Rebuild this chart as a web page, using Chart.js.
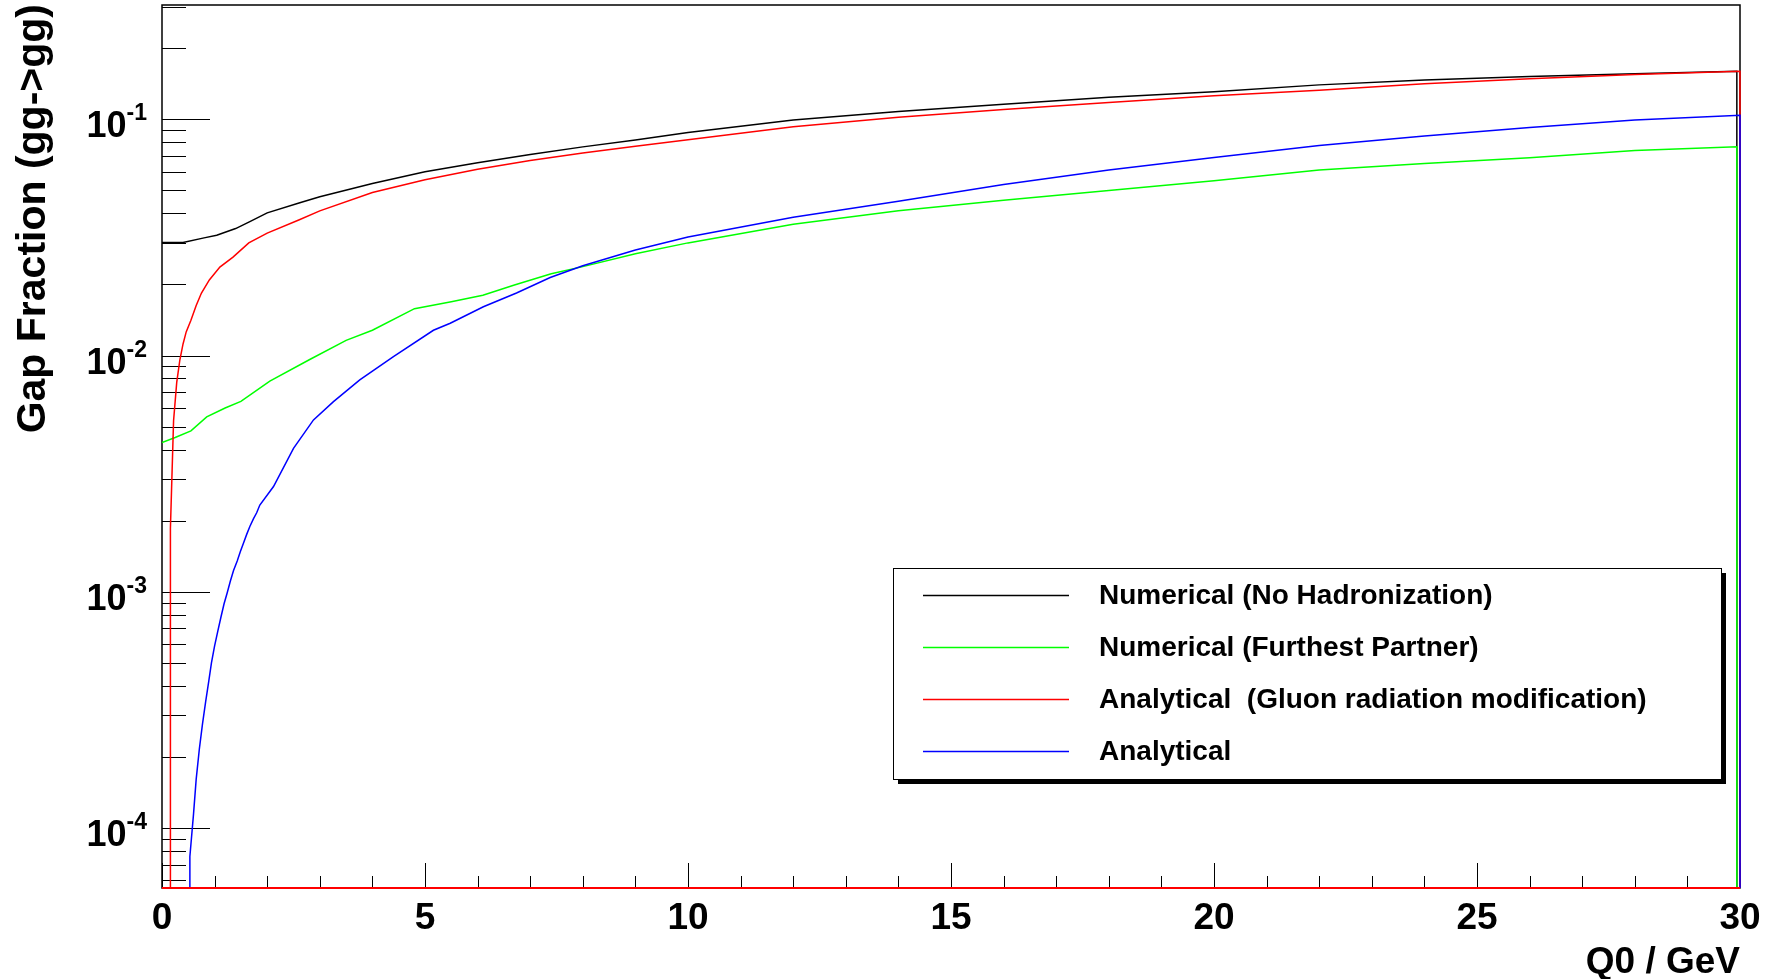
<!DOCTYPE html>
<html>
<head>
<meta charset="utf-8">
<script src="https://cdn.jsdelivr.net/npm/chart.js@4.4.1/dist/chart.umd.min.js"></script>
<style>
  html, body { margin: 0; padding: 0; background: #fff; }
  #chart { display: block; }
</style>
</head>
<body>
<canvas id="chart" width="1772" height="979"></canvas>
<script>
// axis ranges (log y)
const xMin = 0, xMax = 30;
const yMin = 5.57e-5, yMax = 0.305;
// empty histogram bins sit far below the axis floor and get clipped
const EMPTY = 1e-9;

const xMajorTicks = [0, 5, 10, 15, 20, 25, 30];
const xTickLabels = ['0', '5', '10', '15', '20', '25', '30'];
const yMajorTicks = [1e-4, 1e-3, 1e-2, 1e-1];
const yTickExps = ['-4', '-3', '-2', '-1'];

const seriesLabels = [
  'Numerical (No Hadronization)',
  'Numerical (Furthest Partner)',
  'Analytical  (Gluon radiation modification)',
  'Analytical'
];

// Numerical (No Hadronization)
const blackX = [0, 0.4, 0.8, 1.04, 1.4, 1.67, 2, 2.62, 3, 4, 5, 6, 7, 8, 9, 10, 12, 14, 16, 18, 20, 22, 24, 26, 28, 29.94, 29.94];
const blackY = [0.0301, 0.0301, 0.0315, 0.0323, 0.0345, 0.0369, 0.0402, 0.0444, 0.047, 0.0535, 0.060, 0.0655, 0.071, 0.0765, 0.0818, 0.088, 0.0995, 0.108, 0.116, 0.124, 0.131, 0.140, 0.1468, 0.152, 0.156, 0.160, EMPTY];

// Numerical (Furthest Partner)
const greenX = [0, 0.25, 0.55, 0.85, 1.2, 1.5, 2.05, 2.8, 3.5, 4.0, 4.8, 5.5, 6.1, 6.7, 7.4, 8, 9, 10, 12, 14, 16, 18, 20, 22, 24, 26, 28, 29.94, 29.94];
const greenY = [0.00428, 0.0045, 0.0048, 0.0055, 0.0060, 0.0064, 0.0078, 0.0096, 0.0116, 0.0128, 0.0158, 0.0169, 0.0180, 0.0199, 0.0222, 0.0238, 0.027, 0.030, 0.036, 0.041, 0.0455, 0.050, 0.055, 0.061, 0.065, 0.0688, 0.0738, 0.0766, EMPTY];

// Analytical (Gluon radiation modification)
const redX = [0, 0.16, 0.16, 0.22, 0.28, 0.34, 0.40, 0.46, 0.55, 0.65, 0.75, 0.9, 1.1, 1.35, 1.65, 2.0, 2.6, 3, 4, 5, 6, 7, 8, 9, 10, 12, 14, 16, 18, 20, 22, 24, 26, 28, 30, 30];
const redY = [EMPTY, EMPTY, 0.00186, 0.0053, 0.0077, 0.0096, 0.0112, 0.0126, 0.0141, 0.0163, 0.0184, 0.0209, 0.0237, 0.0261, 0.030, 0.033, 0.0375, 0.041, 0.049, 0.0555, 0.0615, 0.067, 0.072, 0.077, 0.082, 0.093, 0.102, 0.110, 0.118, 0.126, 0.133, 0.1415, 0.1485, 0.155, 0.160, EMPTY];

// Analytical
const blueX = [0, 0.53, 0.53, 0.60, 0.65, 0.71, 0.77, 0.83, 0.89, 0.94, 1.0, 1.06, 1.12, 1.18, 1.24, 1.30, 1.36, 1.43, 1.49, 1.55, 1.61, 1.67, 1.74, 1.80, 1.86, 2.12, 2.5, 2.88, 3.26, 3.76, 4.4, 5.16, 5.48, 6.11, 6.74, 7.38, 8, 9, 10, 12, 14, 16, 18, 20, 22, 24, 26, 28, 30, 30];
const blueY = [EMPTY, EMPTY, 7.57e-5, 1.15e-4, 1.61e-4, 2.16e-4, 2.76e-4, 3.43e-4, 4.2e-4, 5.0e-4, 5.9e-4, 6.8e-4, 7.8e-4, 8.9e-4, 9.9e-4, 1.11e-3, 1.23e-3, 1.35e-3, 1.48e-3, 1.61e-3, 1.75e-3, 1.89e-3, 2.04e-3, 2.16e-3, 2.33e-3, 2.79e-3, 4.05e-3, 5.34e-3, 6.38e-3, 7.89e-3, 9.9e-3, 0.0128, 0.0137, 0.0161, 0.0184, 0.0214, 0.0240, 0.028, 0.0318, 0.0385, 0.045, 0.053, 0.061, 0.069, 0.0775, 0.085, 0.0925, 0.0995, 0.104, EMPTY];

const seriesColors = ['#000000', '#00ff00', '#ff0000', '#0000ff'];

function toPoints(xs, ys) {
  return xs.map((x, i) => ({ x: x, y: ys[i] }));
}

const FONT = '"Liberation Sans", Arial, Helvetica, sans-serif';

const rootStyle = {
  id: 'rootStyle',
  beforeDraw(chart) {
    const ctx = chart.ctx;
    ctx.save();
    ctx.fillStyle = '#fff';
    ctx.fillRect(0, 0, chart.width, chart.height);
    ctx.restore();
  },
  beforeDatasetsDraw(chart) {
    const { ctx, chartArea: a, scales } = chart;
    const xs = scales.x, ys = scales.y;
    ctx.save();
    ctx.strokeStyle = '#000';
    ctx.lineWidth = 1;
    ctx.beginPath();
    // y ticks (inside the frame)
    for (let k = -5; k <= 0; k++) {
      for (let m = 1; m <= 9; m++) {
        const v = m * Math.pow(10, k);
        if (v < yMin || v > yMax) continue;
        const py = Math.round(ys.getPixelForValue(v)) + 0.5;
        const len = m === 1 ? 48 : 24;
        ctx.moveTo(a.left, py);
        ctx.lineTo(a.left + len, py);
      }
    }
    // x ticks
    for (let t = xMin; t <= xMax; t++) {
      const px = Math.round(xs.getPixelForValue(t)) + 0.5;
      const len = t % 5 === 0 ? 25 : 12;
      ctx.moveTo(px, a.bottom);
      ctx.lineTo(px, a.bottom - len);
    }
    ctx.stroke();
    // frame
    ctx.lineWidth = 1.5;
    ctx.strokeRect(a.left, a.top, a.right - a.left, a.bottom - a.top);
    ctx.restore();
  },
  afterDatasetsDraw(chart) {
    const { ctx, chartArea: a, scales } = chart;
    const xs = scales.x, ys = scales.y;
    ctx.save();
    // empty bins along the floor
    ctx.strokeStyle = '#ff0000';
    ctx.lineWidth = 2;
    ctx.beginPath();
    ctx.moveTo(a.left, a.bottom);
    ctx.lineTo(a.right, a.bottom);
    ctx.stroke();

    ctx.fillStyle = '#000';
    // x tick labels
    ctx.font = 'bold 37px ' + FONT;
    ctx.textAlign = 'center';
    ctx.textBaseline = 'alphabetic';
    xMajorTicks.forEach((t, i) => {
      ctx.fillText(xTickLabels[i], xs.getPixelForValue(t), 929);
    });
    // y tick labels 10^k
    yMajorTicks.forEach((v, i) => {
      const py = ys.getPixelForValue(v);
      const right = a.left - 15;
      ctx.textAlign = 'right';
      ctx.font = 'bold 23px ' + FONT;
      const ew = ctx.measureText(yTickExps[i]).width;
      ctx.fillText(yTickExps[i], right, py + 1);
      ctx.font = 'bold 36px ' + FONT;
      ctx.fillText('10', right - ew, py + 18);
    });
    // axis titles
    ctx.font = 'bold 37px ' + FONT;
    ctx.textAlign = 'right';
    ctx.fillText('Q0 / GeV', a.right, 973);
    ctx.save();
    ctx.translate(45, 4);
    ctx.rotate(-Math.PI / 2);
    ctx.font = 'bold 41px ' + FONT;
    ctx.textAlign = 'right';
    ctx.fillText('Gap Fraction (gg->gg)', 0, 0);
    ctx.restore();

    // legend box with shadow
    const bx = 893, by = 568, bw = 828, bh = 211;
    ctx.fillStyle = '#000';
    ctx.fillRect(bx + 5, by + 5, bw, bh);
    ctx.fillStyle = '#fff';
    ctx.fillRect(bx, by, bw, bh);
    ctx.strokeStyle = '#000';
    ctx.lineWidth = 1;
    ctx.strokeRect(bx + 0.5, by + 0.5, bw, bh);
    const rows = [595, 647, 699, 751];
    ctx.font = 'bold 28px ' + FONT;
    ctx.textAlign = 'left';
    ctx.textBaseline = 'middle';
    seriesLabels.forEach((lab, i) => {
      ctx.strokeStyle = seriesColors[i];
      ctx.lineWidth = 1.5;
      ctx.beginPath();
      ctx.moveTo(923, rows[i] + 0.5);
      ctx.lineTo(1069, rows[i] + 0.5);
      ctx.stroke();
      ctx.fillStyle = '#000';
      ctx.fillText(lab, 1099, rows[i] + 1);
    });
    ctx.restore();
  }
};

function makeSet(i, xs, ys, order) {
  return {
    label: seriesLabels[i],
    data: toPoints(xs, ys),
    showLine: true,
    borderColor: seriesColors[i],
    borderWidth: 1.5,
    pointRadius: 0,
    tension: 0,
    fill: false,
    clip: { left: 0, right: 2, top: 0, bottom: 0 },
    order: order
  };
}

const chart = new Chart(document.getElementById('chart'), {
  type: 'scatter',
  data: {
    datasets: [
      makeSet(0, blackX, blackY, 4),
      makeSet(1, greenX, greenY, 3),
      makeSet(2, redX, redY, 2),
      makeSet(3, blueX, blueY, 1)
    ]
  },
  options: {
    responsive: false,
    animation: false,
    devicePixelRatio: 1,
    layout: { padding: { left: 162, right: 32, top: 5, bottom: 91 } },
    scales: {
      x: { type: 'linear', min: xMin, max: xMax, display: false },
      y: { type: 'logarithmic', min: yMin, max: yMax, display: false }
    },
    plugins: {
      legend: { display: false },
      tooltip: { enabled: false }
    }
  },
  plugins: [rootStyle]
});
</script>
</body>
</html>
